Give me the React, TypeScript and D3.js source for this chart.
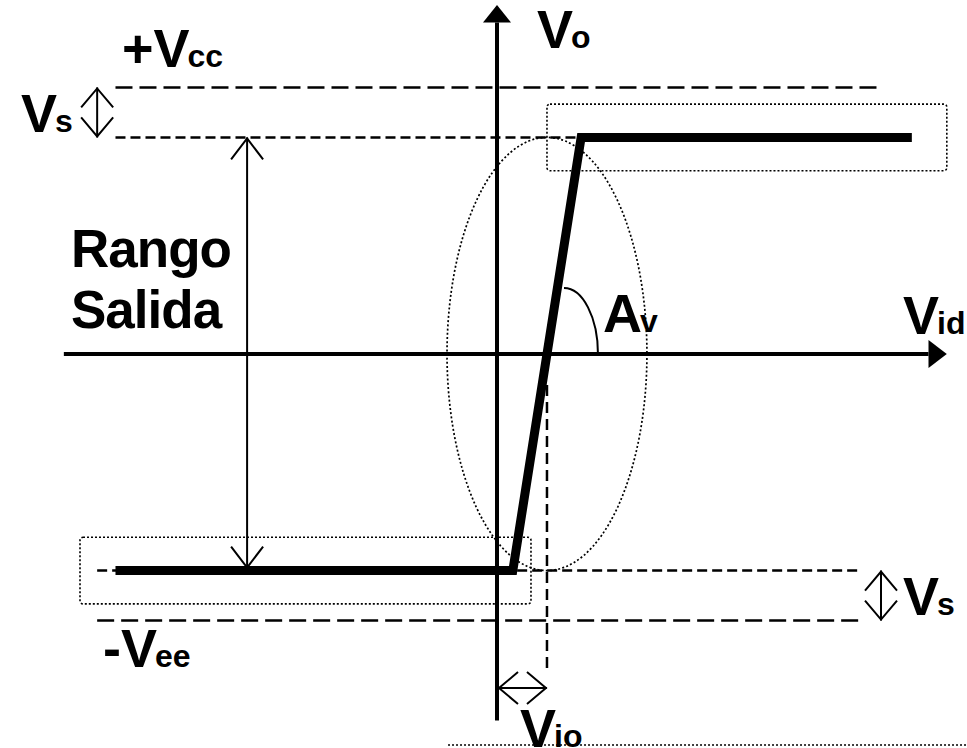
import React from "react";
import * as d3 from "d3";

// ---- data (arbitrary volt units) ----
const transferVid = [-22.9, 0.95, 5.05, 24.9];
const transferVo = [-13, -13, 13, 13];
const levelNames = ["+Vcc", "+Vsat", "-Vsat", "-Vee"];
const levelValues = [16, 13, -13, -16];
const offsetVio = [3];
const axisVidExtent = [-26, 27];
const axisVoExtent = [-22, 20.95];

const W = 967;
const H = 748;
const UNIT = 16.66;
const X0 = 497;
const Y0 = 354;

const x = d3.scaleLinear().domain([0, 1]).range([X0, X0 + UNIT]);
const y = d3.scaleLinear().domain([0, 1]).range([Y0, Y0 - UNIT]);

const FONT = "'Liberation Sans', Arial, Helvetica, sans-serif";
const BIG = 54;
const SUB = 32;

function Label({ px, py, main, sub }: { px: number; py: number; main: string; sub?: string }) {
  return (
    <text x={px} y={py} fontFamily={FONT} fontWeight="bold" fontSize={BIG} fill="#000">
      {main}
      {sub ? (
        <tspan fontSize={SUB} dx={-2}>
          {sub}
        </tspan>
      ) : null}
    </text>
  );
}

function openHead(tx: number, ty: number, dirx: number, diry: number, len = 19, half = 16) {
  const bx = tx - dirx * len;
  const by = ty - diry * len;
  const px = -diry * half;
  const py = dirx * half;
  return `M${bx + px},${by + py}L${tx},${ty}L${bx - px},${by - py}`;
}

export default function App() {
  const vcc = levelValues[0];
  const vsat = levelValues[1];
  const nvsat = levelValues[2];
  const nvee = levelValues[3];
  const vio = offsetVio[0];

  const line = d3
    .line<number>()
    .x((_, i) => x(transferVid[i]))
    .y((d) => y(d));

  const xl = x(axisVidExtent[0]);
  const xr = x(axisVidExtent[1]);
  const yt = y(axisVoExtent[1]);
  const yb = y(axisVoExtent[0]);

  const arcStartX = x(4.02);
  const arcStartY = y(3.96);
  const arcEndX = x(6.06);
  const arcEndY = y(0);

  const rangoX = x(-15);
  const vsLeftX = x(-24);
  const vsRightX = x(23.05);
  const vioArrowY = y(-20.05);

  return (
    <div style={{ position: "absolute", left: 0, top: 0 }}>
      <svg width={W} height={H} viewBox={`0 0 ${W} ${H}`} style={{ display: "block", background: "#fff" }}>
        <rect x={0} y={0} width={W} height={H} fill="#fff" />

        {/* dashed level lines */}
        <line x1={x(-22.9)} x2={x(23)} y1={y(vcc)} y2={y(vcc)} stroke="#000" strokeWidth={2.5} strokeDasharray="17,7" />
        <line x1={x(-22.9)} x2={x(5.0)} y1={y(vsat)} y2={y(vsat)} stroke="#000" strokeWidth={2.5} strokeDasharray="10,5" />
        <line x1={x(-24)} x2={x(21.9)} y1={y(nvsat)} y2={y(nvsat)} stroke="#000" strokeWidth={2.5} strokeDasharray="10,5" />
        <line x1={x(-24)} x2={x(21.9)} y1={y(nvee)} y2={y(nvee)} stroke="#000" strokeWidth={2.5} strokeDasharray="17,7" />

        {/* Vio dashed vertical */}
        <line x1={x(vio)} x2={x(vio)} y1={y(-1.86)} y2={y(-19)} stroke="#000" strokeWidth={2.5} strokeDasharray="11,6" />

        {/* dotted rectangles */}
        <rect
          x={x(3)}
          y={y(15)}
          width={x(27) - x(3)}
          height={y(11) - y(15)}
          rx={3}
          fill="none"
          stroke="#000"
          strokeWidth={1.6}
          strokeDasharray="2,2"
        />
        <rect
          x={x(-25.03)}
          y={y(-11)}
          width={x(2.04) - x(-25.03)}
          height={y(-15) - y(-11)}
          rx={3}
          fill="none"
          stroke="#000"
          strokeWidth={1.6}
          strokeDasharray="2,2"
        />

        {/* dotted ellipse */}
        <ellipse
          cx={x(vio)}
          cy={y(0)}
          rx={x(6) - x(0)}
          ry={y(0) - y(13)}
          fill="none"
          stroke="#000"
          strokeWidth={1.7}
          strokeDasharray="2,2.2"
        />

        {/* bottom dotted line */}
        <line x1={x(-2.94)} x2={x(28.2)} y1={y(-23.47)} y2={y(-23.47)} stroke="#000" strokeWidth={1.6} strokeDasharray="2,2" />

        {/* axes */}
        <line x1={xl} x2={x(25.9)} y1={y(0)} y2={y(0)} stroke="#000" strokeWidth={4} />
        <path d={`M${xr},${y(0)}L${x(25.9)},${y(0) - 14}L${x(25.9)},${y(0) + 14}Z`} fill="#000" />
        <line x1={x(0)} x2={x(0)} y1={y(19.9)} y2={yb} stroke="#000" strokeWidth={4} />
        <path d={`M${x(0)},${yt}L${x(0) - 14},${y(19.9)}L${x(0) + 14},${y(19.9)}Z`} fill="#000" />

        {/* transfer characteristic */}
        <path d={line(transferVo) || ""} fill="none" stroke="#000" strokeWidth={9} strokeLinejoin="miter" />

        {/* Av arc */}
        <path
          d={`M${arcStartX},${arcStartY}A${arcEndX - arcStartX},${arcEndY - arcStartY} 0 0 1 ${arcEndX},${arcEndY}`}
          fill="none"
          stroke="#000"
          strokeWidth={2}
        />

        {/* Rango salida arrow */}
        <line x1={rangoX} x2={rangoX} y1={y(vsat)} y2={y(nvsat) - 2} stroke="#000" strokeWidth={2} />
        <path d={openHead(rangoX, y(vsat) + 1, 0, -1, 21, 16)} fill="none" stroke="#000" strokeWidth={2} />
        <path d={openHead(rangoX, y(nvsat) - 3, 0, 1, 21, 16)} fill="none" stroke="#000" strokeWidth={2} />

        {/* Vs arrows */}
        <line x1={vsLeftX} x2={vsLeftX} y1={y(vcc)} y2={y(vsat)} stroke="#000" strokeWidth={2} />
        <path d={openHead(vsLeftX, y(vcc) + 1, 0, -1, 19, 16)} fill="none" stroke="#000" strokeWidth={2} />
        <path d={openHead(vsLeftX, y(vsat) - 1, 0, 1, 19, 16)} fill="none" stroke="#000" strokeWidth={2} />

        <line x1={vsRightX} x2={vsRightX} y1={y(nvsat)} y2={y(nvee)} stroke="#000" strokeWidth={2} />
        <path d={openHead(vsRightX, y(nvsat) + 1, 0, -1, 19, 16)} fill="none" stroke="#000" strokeWidth={2} />
        <path d={openHead(vsRightX, y(nvee) - 1, 0, 1, 19, 16)} fill="none" stroke="#000" strokeWidth={2} />

        {/* Vio arrow */}
        <line x1={x(0) + 1} x2={x(vio)} y1={vioArrowY} y2={vioArrowY} stroke="#000" strokeWidth={2} />
        <path d={openHead(x(0) + 2, vioArrowY, -1, 0, 19, 16)} fill="none" stroke="#000" strokeWidth={2} />
        <path d={openHead(x(vio) - 1, vioArrowY, 1, 0, 19, 16)} fill="none" stroke="#000" strokeWidth={2} />

        {/* labels */}
        <Label px={122} py={67} main={levelNames[0].slice(0, 2)} sub="cc" />
        <Label px={21} py={132} main="V" sub="s" />
        <Label px={537} py={48} main="V" sub="o" />
        <Label px={903} py={334} main="V" sub="id" />
        <Label px={603} py={332} main="A" sub="v" />
        <Label px={903} py={615} main="V" sub="s" />
        <Label px={103} py={667} main={levelNames[3].slice(0, 2)} sub="ee" />
        <Label px={520} py={747} main="V" sub="io" />
        <text x={71} y={267} fontFamily={FONT} fontWeight="bold" fontSize={53} letterSpacing={-1} fill="#000">
          Rango
        </text>
        <text x={71} y={328} fontFamily={FONT} fontWeight="bold" fontSize={53} letterSpacing={-1} fill="#000">
          Salida
        </text>
      </svg>
    </div>
  );
}
